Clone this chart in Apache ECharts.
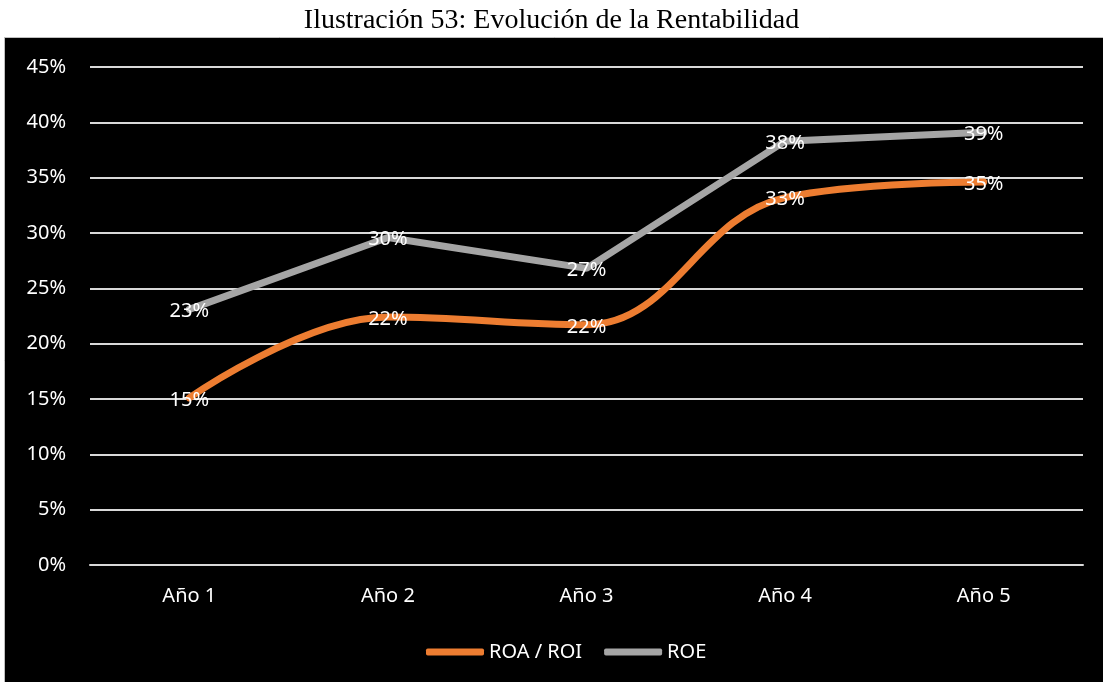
<!DOCTYPE html>
<html>
<head>
<meta charset="utf-8">
<script src="https://cdn.jsdelivr.net/npm/echarts@6/dist/echarts.min.js"></script>
<style>
  html, body { margin: 0; padding: 0; background: #ffffff; }
  #chart { width: 1103px; height: 682px; }
</style>
</head>
<body>
<div id="chart"></div>
<script>
// Rentabilidad por año (%)
const years = ['Año 1', 'Año 2', 'Año 3', 'Año 4', 'Año 5'];
const roaRoi = [15.1, 22.4, 21.7, 33.2, 34.6];
const roe = [23.1, 29.6, 26.8, 38.3, 39.1];
const yTicks = [0, 5, 10, 15, 20, 25, 30, 35, 40, 45];

const chart = echarts.init(document.getElementById('chart'), null, { renderer: 'canvas' });
const uiFont = '"Noto Sans", "Open Sans", sans-serif';
const uiSize = 20;

function labelCfg() {
  return {
    show: true,
    position: 'inside',
    color: '#ffffff',
    fontFamily: uiFont,
    fontSize: uiSize,
    offset: [0, 2],
    formatter: p => Math.round(p.value) + '%'
  };
}

chart.setOption({
  backgroundColor: '#ffffff',
  animation: false,
  graphic: [{
    type: 'rect',
    z: -10,
    shape: { x: 4.5, y: 37.5, width: 1100, height: 646 },
    style: { fill: '#000000', stroke: '#bfbfbf', lineWidth: 1 }
  }],
  title: {
    text: 'Ilustración 53: Evolución de la Rentabilidad',
    left: 'center',
    top: 2,
    textStyle: {
      fontFamily: '"Liberation Serif", "Times New Roman", serif',
      fontWeight: 'normal',
      fontSize: 28,
      color: '#000000'
    }
  },
  legend: {
    left: 421,
    top: 637,
    itemWidth: 58,
    itemHeight: 7,
    itemGap: 22,
    icon: 'roundRect',
    textStyle: { color: '#ffffff', fontFamily: uiFont, fontSize: uiSize },
    data: ['ROA / ROI', 'ROE']
  },
  grid: { left: 90, right: 20, top: 67, bottom: 117 },
  xAxis: {
    type: 'category',
    data: years,
    boundaryGap: true,
    axisLine: { lineStyle: { color: '#d9d9d9', width: 2 } },
    axisTick: { show: false },
    axisLabel: { color: '#ffffff', fontFamily: uiFont, fontSize: uiSize, margin: 21 }
  },
  yAxis: {
    type: 'value',
    min: yTicks[0],
    max: yTicks[yTicks.length - 1],
    interval: 5,
    axisLine: { show: false },
    axisTick: { show: false },
    splitLine: { lineStyle: { color: '#d9d9d9', width: 2 } },
    axisLabel: {
      color: '#ffffff', fontFamily: uiFont, fontSize: uiSize, margin: 24,
      formatter: v => v + '%'
    }
  },
  series: [
    {
      name: 'ROA / ROI',
      type: 'line',
      data: roaRoi,
      smooth: 0.4,
      symbol: 'circle',
      symbolSize: 1,
      color: '#ed7d31',
      lineStyle: { color: '#ed7d31', width: 7, cap: 'round' },
      label: labelCfg(),
      z: 3
    },
    {
      name: 'ROE',
      type: 'line',
      data: roe,
      smooth: false,
      symbol: 'circle',
      symbolSize: 1,
      color: '#a5a5a5',
      lineStyle: { color: '#a5a5a5', width: 7, cap: 'round' },
      label: labelCfg(),
      z: 2
    }
  ]
});
</script>
</body>
</html>
